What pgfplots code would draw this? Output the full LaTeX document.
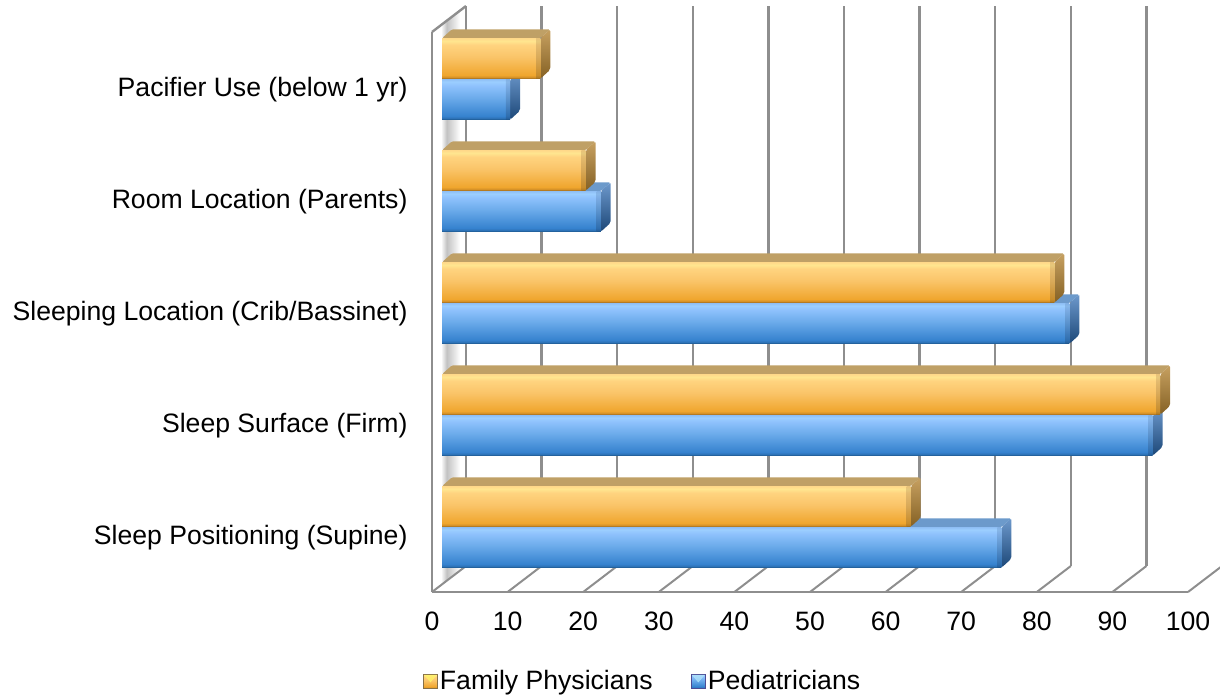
\documentclass[border=0pt]{standalone}
\usepackage{fontspec}
\setmainfont{Liberation Sans}
\usepackage{pgfplots}
\usepackage{pgfplotstable}
\pgfplotsset{compat=1.18}

\definecolor{framegray}{HTML}{8E8E8E}
\definecolor{otopface}{HTML}{BFA066}
\definecolor{btopface}{HTML}{6C9ACB}

% Bar front faces, listed from bottom to top; a filled path spans 25bp to 75bp
\pgfdeclareverticalshading{orangefront}{100bp}{
  rgb(0bp)=(0.60,0.41,0.12);
  rgb(25bp)=(0.60,0.41,0.12);
  rgb(27bp)=(0.84,0.57,0.15);
  rgb(29.5bp)=(0.94,0.65,0.18);
  rgb(52bp)=(0.98,0.77,0.41);
  rgb(67bp)=(1.0,0.83,0.50);
  rgb(71.5bp)=(1.0,0.90,0.56);
  rgb(75bp)=(1.0,0.85,0.54);
  rgb(100bp)=(1.0,0.85,0.54)}
\pgfdeclareverticalshading{bluefront}{100bp}{
  rgb(0bp)=(0.10,0.33,0.53);
  rgb(25bp)=(0.10,0.33,0.53);
  rgb(27bp)=(0.18,0.45,0.72);
  rgb(29.5bp)=(0.21,0.51,0.81);
  rgb(52bp)=(0.42,0.67,0.92);
  rgb(67bp)=(0.56,0.76,0.99);
  rgb(72bp)=(0.61,0.81,1.0);
  rgb(75bp)=(0.56,0.75,0.96);
  rgb(100bp)=(0.56,0.75,0.96)}
% Bar end faces
\pgfdeclareverticalshading{orangeside}{100bp}{
  rgb(0bp)=(0.52,0.38,0.14);
  rgb(25bp)=(0.52,0.38,0.14);
  rgb(75bp)=(0.78,0.63,0.38);
  rgb(100bp)=(0.78,0.63,0.38)}
\pgfdeclareverticalshading{blueside}{100bp}{
  rgb(0bp)=(0.11,0.28,0.47);
  rgb(25bp)=(0.11,0.28,0.47);
  rgb(75bp)=(0.43,0.60,0.80);
  rgb(100bp)=(0.43,0.60,0.80)}
% Side wall, between the bars
\pgfdeclarehorizontalshading{wallshade}{100bp}{
  rgb(0bp)=(1,1,1);
  rgb(25bp)=(1,1,1);
  rgb(40bp)=(0.76,0.76,0.76);
  rgb(58bp)=(0.88,0.88,0.88);
  rgb(75bp)=(1,1,1);
  rgb(100bp)=(1,1,1)}

% Depth faces: x = a*value + c, y = centre + b
\pgfplotstableread{
a c    b
0 0    0.181
1 0    0.181
1 1.32 0.261
0 1.32 0.261
}\topface
\pgfplotstableread{
a c    b
1 0    0.181
1 1.32 0.261
1 1.32 -0.100
1 0    -0.181
}\sideface
\pgfplotstableread{
a c     b
1 -0.55 0.181
1 0     0.181
1 0     -0.181
1 -0.55 -0.181
}\endstrip

% One bar: value, category, centre of the bar, shift, front shading, top colour, end shading
\newcommand{\threedbar}[7]{%
  \addplot[fill=#6,draw=none,forget plot,rounded corners=1.5pt] table[x expr=\thisrow{a}*#1+\thisrow{c},y expr=#3+\thisrow{b}] {\topface} --cycle;
  \addplot[shading=#7,draw=none,forget plot,rounded corners=2pt] table[x expr=\thisrow{a}*#1+\thisrow{c},y expr=#3+\thisrow{b}] {\sideface} --cycle;
  \addplot[xbar,bar width=40.5pt,bar shift=#4,shading=#5,draw=none,forget plot] coordinates {(#1,#2)};
  \addplot[shading=#7,draw=none,forget plot,opacity=0.4] table[x expr=\thisrow{a}*#1+\thisrow{c},y expr=#3+\thisrow{b}] {\endstrip} --cycle;
}
\newcommand{\pedbar}[2]{\threedbar{#1}{#2}{#2-0.183}{-20.5pt}{bluefront}{btopface}{blueside}}
\newcommand{\fambar}[2]{\threedbar{#1}{#2}{#2+0.183}{20.5pt}{orangefront}{otopface}{orangeside}}

\pgfplotsset{
  plane/.style={
    scale only axis,width=756pt,height=560pt,
    xmin=0,xmax=100,ymin=0.5,ymax=5.5,clip=false,
  },
}

\begin{document}
\begin{tikzpicture}[x=1pt,y=1pt]
\path[use as bounding box] (0,0) rectangle (1220,696);

% Back plane gridlines
\begin{axis}[plane,at={(466pt,130pt)},anchor=south west,
  axis line style={draw=none},
  xtick={0,10,...,100},ytick=\empty,xticklabels={},
  major tick length=0pt,
  xmajorgrids,grid style={draw=framegray,line width=2.4pt}]
\end{axis}

% Front plane: frame, floor, categories and legend
\begin{axis}[plane,at={(432pt,104pt)},anchor=south west,
  axis x line*=bottom,axis y line*=left,
  axis line style={draw=framegray,line width=2.4pt,-},
  xtick={0,10,...,100},ytick={1,2,3,4,5},
  yticklabels={Sleep Positioning (Supine),Sleep Surface (Firm),Sleeping Location (Crib/Bassinet),Room Location (Parents),Pacifier Use (below 1 yr)},
  major tick length=0pt,
  tick label style={font=\fontsize{26.6}{32}\selectfont},
  /pgf/number format/assume math mode=true,
  xticklabel style={yshift=-16pt},
  yticklabel style={xshift=-21pt,yshift=-2pt},
  legend columns=2,
  legend cell align=left,
  legend style={draw=none,fill=none,font=\fontsize{26.6}{32}\selectfont,
    at={(axis description cs:0.2785,-0.159)},anchor=center,
    /tikz/every even column/.append style={column sep=36pt}},
  ]
\addplot[shading=wallshade,draw=none,forget plot] coordinates {(1.19,5.56) (3.7,5.7) (3.7,0.7) (1.19,0.56)} --cycle;
\addplot[draw=framegray,line width=2.4pt,forget plot] coordinates {(0,5.5) (4.5,5.732)};
\addplot[draw=framegray,line width=2pt,unbounded coords=jump,forget plot] table {
x y
0 0.5
4.5 0.732
nan nan
10 0.5
14.5 0.732
nan nan
20 0.5
24.5 0.732
nan nan
30 0.5
34.5 0.732
nan nan
40 0.5
44.5 0.732
nan nan
50 0.5
54.5 0.732
nan nan
60 0.5
64.5 0.732
nan nan
70 0.5
74.5 0.732
nan nan
80 0.5
84.5 0.732
nan nan
90 0.5
94.5 0.732
nan nan
100 0.5
104.5 0.732
};
\addlegendimage{legend image code/.code={
  \path[shading=orangefront,draw=otopface!70!black,line width=1pt] (0pt,-7pt) rectangle (14pt,7pt);
  \fill[yellow!60!white,opacity=0.7] (1pt,6pt) -- (13pt,6pt) -- (7pt,-1pt) -- cycle;}}
\addlegendentry{Family Physicians}
\addlegendimage{legend image code/.code={
  \path[shading=bluefront,draw=blue!40!black!70,line width=1pt] (0pt,-7pt) rectangle (14pt,7pt);
  \fill[cyan!30!white,opacity=0.7] (1pt,6pt) -- (13pt,6pt) -- (7pt,-1pt) -- cycle;}}
\addlegendentry{Pediatricians}
\end{axis}

% Bars, set a little way into the depth of the chart
\begin{axis}[plane,at={(442pt,113pt)},anchor=south west,hide axis]
\pedbar{74}{1}
\pedbar{94}{2}
\pedbar{83}{3}
\pedbar{21}{4}
\pedbar{9}{5}
\fambar{62}{1}
\fambar{95}{2}
\fambar{81}{3}
\fambar{19}{4}
\fambar{13}{5}
\end{axis}
\end{tikzpicture}
\end{document}
